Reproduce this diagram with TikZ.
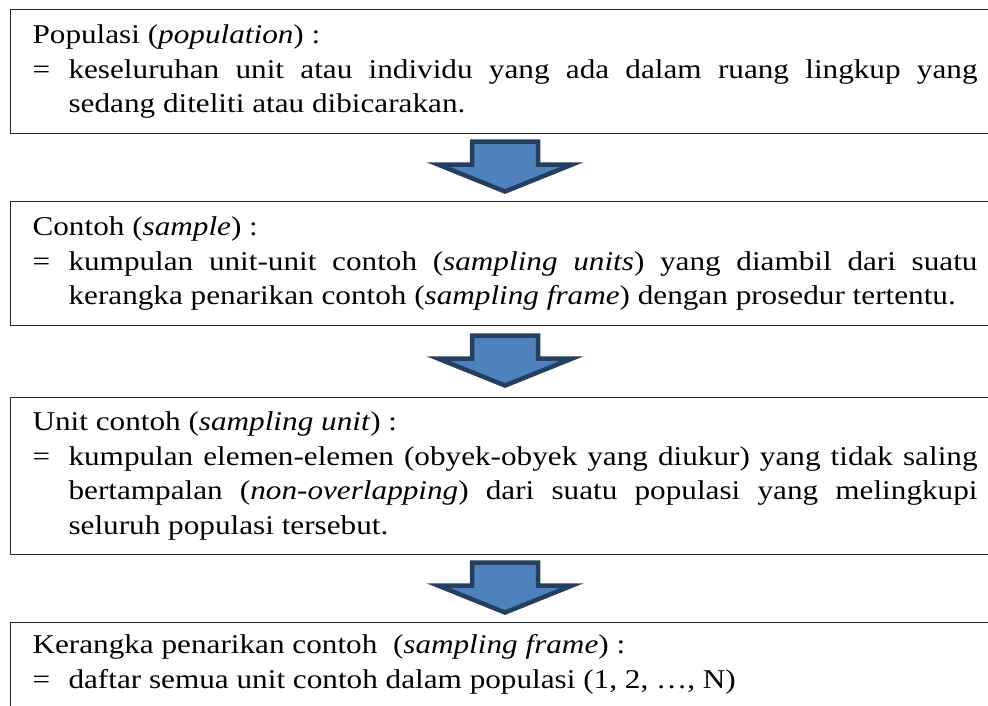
\documentclass[tikz,border=0pt]{standalone}
\usepackage{fontspec}
\setmainfont{Liberation Serif}[FakeStretch=1.15]
\usetikzlibrary{calc}
\definecolor{arrowblue}{RGB}{79,129,189}
\definecolor{arrowdark}{RGB}{36,63,96}
\newcommand{\isdef}[1]{\par\noindent\hangindent=0.9cm\hangafter=1\makebox[0.9cm][l]{=}#1\par}

\begin{document}
\begin{tikzpicture}[
  defbox/.style={draw=black!85, line width=0.8pt, anchor=north west, text width=23.625cm, inner xsep=0.55cm, align=justify, font=\fontsize{19.3pt}{24.5pt}\selectfont},
  flowarrow/.style={draw=arrowdark, fill=arrowblue, line width=3.2pt, line join=miter}
]
  \useasboundingbox (0,0) rectangle (24.7,17.65);
  \clip (0,0) rectangle (24.7,17.65);

  \node[defbox, minimum height=3.1cm] (pop) at (0.25,17.425) {Populasi (\emph{population}) :
    \isdef{keseluruhan unit atau individu yang ada dalam ruang lingkup yang\linebreak sedang diteliti atau dibicarakan.}};
  \node[defbox, minimum height=3.1cm] (sam) at (0.25,12.625) {Contoh (\emph{sample}) :
    \isdef{kumpulan unit-unit contoh (\emph{sampling units}) yang diambil dari suatu\linebreak kerangka penarikan contoh (\emph{sampling frame}) dengan prosedur tertentu.}};
  \node[defbox, minimum height=3.925cm] (unit) at (0.25,7.725) {Unit contoh (\emph{sampling unit}) :
    \isdef{kumpulan elemen-elemen (obyek-obyek yang diukur) yang tidak saling\linebreak bertampalan (\emph{non-overlapping}) dari suatu populasi yang melingkupi\linebreak seluruh populasi tersebut.}};
  \node[defbox, inner ysep=0.3cm, text depth=4cm] (frame) at (0.25,2.1) {Kerangka penarikan contoh\ \ (\emph{sampling frame}) :
    \isdef{daftar semua unit contoh dalam populasi (1, 2, …, N)}};

  % block arrows between the boxes
  \foreach \a/\b in {pop/sam, sam/unit, unit/frame}
    \draw[flowarrow] ($(\a.south)!0.5!(\b.north)$) ++(-0.825,0.65) -- ++(1.65,0) -- ++(0,-0.575) -- ++(0.85,0)
      -- ++(-1.675,-0.675) -- ++(-1.675,0.675) -- ++(0.85,0) -- cycle;
\end{tikzpicture}
\end{document}
